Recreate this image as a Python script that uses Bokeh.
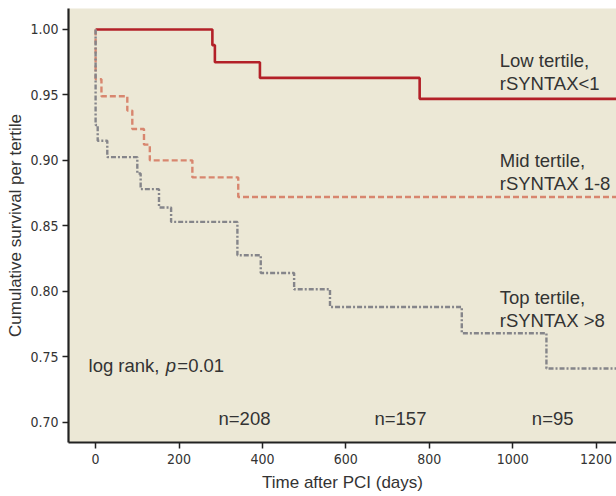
from bokeh.plotting import figure
from bokeh.models import Label, FixedTicker, PrintfTickFormatter, Range1d
from bokeh.embed import file_html
from bokeh.resources import INLINE

# Kaplan-Meier step data (days, cumulative survival)
low_t = [0, 280, 286, 394, 777, 1260]
low_s = [1.000, 0.988, 0.975, 0.963, 0.947, 0.947]

mid_t = [0, 0, 14, 76, 88, 116, 130, 232, 342, 1260]
mid_s = [1.000, 0.962, 0.949, 0.938, 0.924, 0.912, 0.900, 0.887, 0.872, 0.872]

top_t = [0, 0, 5, 28, 100, 108, 152, 181, 340, 396, 476, 562, 878, 1081, 1260]
top_s = [1.000, 0.927, 0.915, 0.9025, 0.890, 0.878, 0.864, 0.853, 0.8275,
         0.814, 0.8015, 0.788, 0.768, 0.741, 0.741]

x_ticks = [0, 200, 400, 600, 800, 1000, 1200]
y_ticks = [0.70, 0.75, 0.80, 0.85, 0.90, 0.95, 1.00]

n_labels = ["n=208", "n=157", "n=95"]
n_pos = [357, 731, 1096]

FONT = "Liberation Sans"
TICKFONT = "'Liberation Sans Narrow', 'DejaVu Sans Condensed', 'Liberation Sans'"
TXT = "#333333"

p = figure(width=616, height=496, output_backend="svg", toolbar_location=None,
           x_range=Range1d(-65, 1249), y_range=Range1d(0.6845, 1.016),
           min_border_left=68, min_border_right=0, min_border_top=8,
           min_border_bottom=54)
p.background_fill_color = "#ECE8D6"
p.border_fill_color = "white"
p.outline_line_color = None
p.xgrid.visible = False
p.ygrid.visible = False

p.step(low_t, low_s, mode="after", line_color="#B32028", line_width=2.6)
p.step(mid_t, mid_s, mode="after", line_color="#D8866F", line_width=2.4,
       line_dash="6 3")
p.step(top_t, top_s, mode="after", line_color="#85858A", line_width=2.4,
       line_dash="5 2 2 2")

for ax in (p.xaxis[0], p.yaxis[0]):
    ax.axis_line_width = 2.2
    ax.axis_line_color = "#222222"
    ax.major_tick_line_color = "#222222"
    ax.major_tick_line_width = 1.5
    ax.major_tick_out = 6
    ax.major_tick_in = 0
    ax.minor_tick_line_color = None
    ax.major_label_text_font = TICKFONT
    ax.major_label_text_font_size = "14px"
    ax.major_label_text_color = TXT
    ax.axis_label_text_font = FONT
    ax.axis_label_text_font_size = "17px"
    ax.axis_label_text_font_style = "normal"
    ax.axis_label_text_color = TXT

p.xaxis.ticker = FixedTicker(ticks=x_ticks)
p.yaxis.ticker = FixedTicker(ticks=y_ticks)
p.yaxis.formatter = PrintfTickFormatter(format="%.2f")
p.xaxis.axis_label = "Time after PCI (days)"
p.yaxis.axis_label = "Cumulative survival per tertile"
p.xaxis.major_label_standoff = 5
p.yaxis.major_label_standoff = 4
p.xaxis.axis_label_standoff = 6
p.yaxis.axis_label_standoff = 2


def lab(x, y, t, size="18.5px", style="normal", align="left"):
    p.add_layout(Label(x=x, y=y, text=t, text_font=FONT, text_font_size=size,
                       text_color=TXT, text_baseline="middle",
                       text_align=align, text_font_style=style))


lab(969, 0.9763, "Low tertile,")
lab(969, 0.9588, "rSYNTAX<1")
lab(969, 0.9000, "Mid tertile,")
lab(969, 0.8824, "rSYNTAX 1-8")
lab(969, 0.7954, "Top tertile,")
lab(969, 0.7779, "rSYNTAX >8")

lab(-17, 0.7435, "log rank,")
lab(168, 0.7435, "p", style="italic")
lab(196, 0.7435, "=0.01")

for t, xpos in zip(n_labels, n_pos):
    lab(xpos, 0.703, t, align="center")

open("out.html", "w").write(file_html(p, INLINE))
